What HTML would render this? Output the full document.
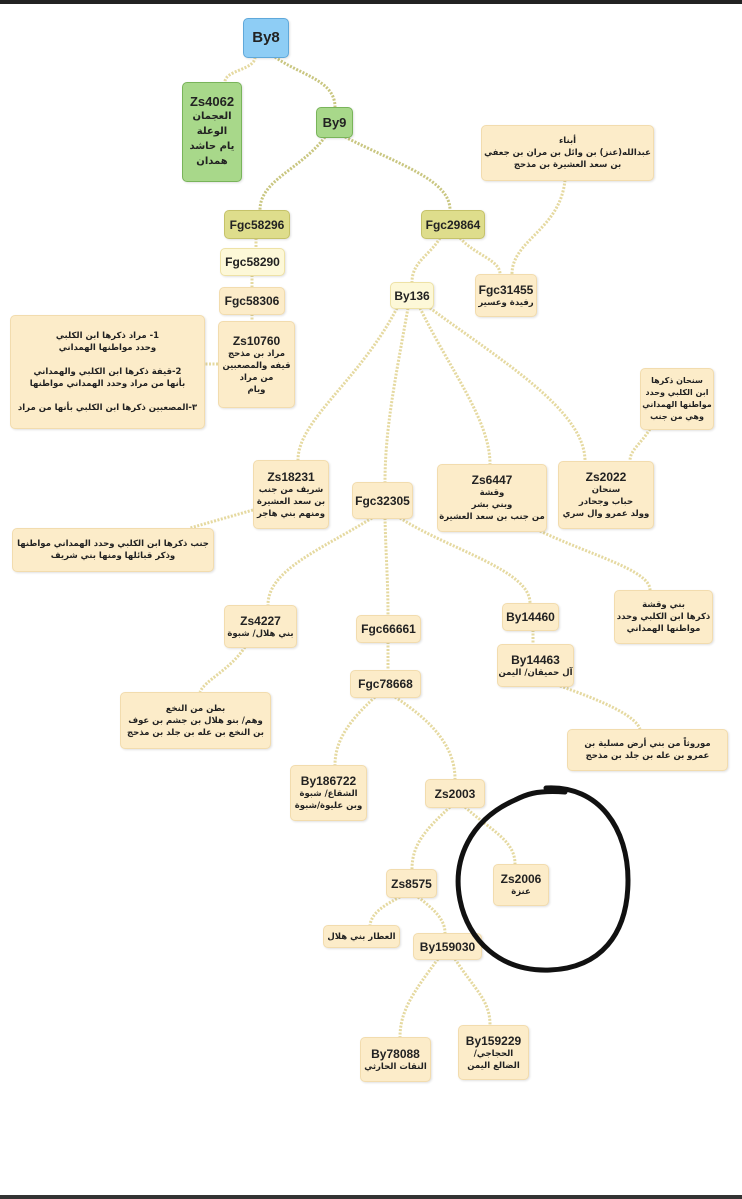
<!DOCTYPE html>
<html><head><meta charset="utf-8"><style>
html,body{margin:0;padding:0}
body{width:742px;height:1199px;position:relative;background:#fff;overflow:hidden;font-family:"Liberation Sans","DejaVu Sans",sans-serif}
.b{position:absolute;box-sizing:border-box;border-radius:5px;background:#fcecc9;border:1px solid #f2dcae;box-shadow:1px 1px 2px rgba(0,0,0,.12);display:flex;flex-direction:column;align-items:center;justify-content:center;text-align:center;color:#222}
.t{font-weight:bold;font-size:12px;line-height:14px;white-space:nowrap}
.a{font-family:"DejaVu Sans",sans-serif;font-weight:bold;font-size:8.5px;line-height:12px;direction:rtl;white-space:nowrap;letter-spacing:-0.2px}
.y{background:#fdf8d8;border-color:#eee2a6}
.o{background:#dedd8c;border-color:#c5c26a}
.g{background:#a8d88a;border-color:#79b45a}
</style></head><body>
<div style="position:absolute;left:0;top:0;width:742px;height:4px;background:#222"></div>
<div style="position:absolute;left:0;top:1195px;width:742px;height:4px;background:#333"></div>
<svg width="742" height="1199" style="position:absolute;left:0;top:0" fill="none" stroke="#e5d9a0" stroke-width="3" stroke-dasharray="2 1.5">
<path d="M255 57 C255 70,225 70,225 82"/>
<path d="M275 57 C300 75,335 80,335 107" stroke="#c9c680"/>
<path d="M325 137 C300 170,260 180,260 210" stroke="#c9c680"/>
<path d="M345 137 C400 165,450 180,450 210" stroke="#c9c680"/>
<path d="M256 238 L256 248"/><path d="M252 275 L252 287"/><path d="M252 314 L252 321"/>
<path d="M218 364 L204 364"/>
<path d="M440 238 C430 255,412 262,412 282"/>
<path d="M460 238 C475 255,500 260,500 274"/>
<path d="M565 180 C560 230,512 240,512 274"/>
<path d="M397 308 C360 380,298 420,298 460"/>
<path d="M408 308 C395 380,385 430,385 482"/>
<path d="M420 308 C450 370,490 420,490 464"/>
<path d="M430 308 C500 360,585 410,585 461"/>
<path d="M650 429 C640 445,630 450,630 461"/>
<path d="M253 510 L190 528"/>
<path d="M372 518 C320 550,268 570,268 605"/>
<path d="M385 518 C386 560,388 580,388 615"/>
<path d="M400 518 C450 550,530 570,530 603"/>
<path d="M540 531 C590 555,650 570,650 590"/>
<path d="M533 630 L533 644"/><path d="M388 642 L388 670"/>
<path d="M245 647 C230 670,205 680,200 692"/>
<path d="M560 686 C600 700,635 715,640 729"/>
<path d="M375 697 C350 720,335 740,335 765"/>
<path d="M395 697 C430 720,455 745,455 779"/>
<path d="M450 807 C425 830,412 845,412 869"/>
<path d="M465 807 C490 830,515 840,515 864"/>
<path d="M400 897 C385 905,372 912,370 925"/>
<path d="M418 897 C435 910,445 920,445 933"/>
<path d="M438 959 C415 990,400 1010,400 1037"/>
<path d="M455 959 C475 990,490 1000,490 1025"/>
</svg>
<div class="b" style="left:243px;top:18px;width:46px;height:40px;background:#8ecdf5;border-color:#5fa8da"><span class="t" style="font-size:15px">By8</span></div>
<div class="b g" style="left:182px;top:82px;width:60px;height:100px"><span class="t" style="font-size:13px">Zs4062</span><span class="a" style="font-size:10px;line-height:15px">العجمان<br>الوعلة<br>يام حاشد<br>همدان</span></div>
<div class="b g" style="left:316px;top:107px;width:37px;height:31px"><span class="t" style="font-size:13px">By9</span></div>
<div class="b o" style="left:224px;top:210px;width:66px;height:29px"><span class="t">Fgc58296</span></div>
<div class="b o" style="left:421px;top:210px;width:64px;height:29px"><span class="t">Fgc29864</span></div>
<div class="b y" style="left:220px;top:248px;width:65px;height:28px"><span class="t">Fgc58290</span></div>
<div class="b" style="left:219px;top:287px;width:66px;height:28px"><span class="t">Fgc58306</span></div>
<div class="b y" style="left:390px;top:282px;width:44px;height:27px"><span class="t">By136</span></div>
<div class="b" style="left:475px;top:274px;width:62px;height:43px"><span class="t">Fgc31455</span><span class="a">رفيدة وعسير</span></div>
<div class="b" style="left:481px;top:125px;width:173px;height:56px"><span class="a">أبناء<br>عبدالله(عنز) بن وائل بن مران بن جعفي<br>بن سعد العشيرة بن مذحج</span></div>
<div class="b" style="left:10px;top:315px;width:195px;height:114px"><span class="a">1- مراد ذكرها ابن الكلبي<br>وحدد مواطنها الهمداني<br><br>2-قيفة ذكرها ابن الكلبي والهمداني<br>بأنها من مراد وحدد الهمداني مواطنها<br><br>٣-المصعبين ذكرها ابن الكلبي بأنها من مراد</span></div>
<div class="b" style="left:218px;top:321px;width:77px;height:87px"><span class="t">Zs10760</span><span class="a">مراد بن مذحج<br>قيفه والمصعبين<br>من مراد<br>ويام</span></div>
<div class="b" style="left:640px;top:368px;width:74px;height:62px"><span class="a" style="font-size:8px">سنحان ذكرها<br>ابن الكلبي وحدد<br>مواطنها الهمداني<br>وهي من جنب</span></div>
<div class="b" style="left:253px;top:460px;width:76px;height:69px"><span class="t">Zs18231</span><span class="a">شريف من جنب<br>بن سعد العشيرة<br>ومنهم بني هاجر</span></div>
<div class="b" style="left:352px;top:482px;width:61px;height:37px"><span class="t">Fgc32305</span></div>
<div class="b" style="left:437px;top:464px;width:110px;height:68px"><span class="t">Zs6447</span><span class="a">وقشة<br>وبني بشر<br>من جنب بن سعد العشيرة</span></div>
<div class="b" style="left:558px;top:461px;width:96px;height:68px"><span class="t">Zs2022</span><span class="a">سنحان<br>حباب وجحادر<br>وولد عمرو وال سري</span></div>
<div class="b" style="left:12px;top:528px;width:202px;height:44px"><span class="a">جنب ذكرها ابن الكلبي وحدد الهمداني مواطنها<br>وذكر قبائلها ومنها بني شريف</span></div>
<div class="b" style="left:614px;top:590px;width:99px;height:54px"><span class="a">بني وقشة<br>ذكرها ابن الكلبي وحدد<br>مواطنها الهمداني</span></div>
<div class="b" style="left:224px;top:605px;width:73px;height:43px"><span class="t">Zs4227</span><span class="a">بني هلال/ شبوة</span></div>
<div class="b" style="left:356px;top:615px;width:65px;height:28px"><span class="t">Fgc66661</span></div>
<div class="b" style="left:502px;top:603px;width:57px;height:28px"><span class="t">By14460</span></div>
<div class="b" style="left:497px;top:644px;width:77px;height:43px"><span class="t">By14463</span><span class="a">آل حميقان/ اليمن</span></div>
<div class="b" style="left:350px;top:670px;width:71px;height:28px"><span class="t">Fgc78668</span></div>
<div class="b" style="left:120px;top:692px;width:151px;height:57px"><span class="a">بطن من النخع<br>وهم/ بنو هلال بن جشم بن عوف<br>بن النخع بن عله بن جلد بن مذحج</span></div>
<div class="b" style="left:567px;top:729px;width:161px;height:42px"><span class="a">موروثاً من بني أرض مسلية بن<br>عمرو بن عله بن جلد بن مذحج</span></div>
<div class="b" style="left:290px;top:765px;width:77px;height:56px"><span class="t">By186722</span><span class="a">الشقاع/ شبوة<br>وبن عليوة/شبوة</span></div>
<div class="b" style="left:425px;top:779px;width:60px;height:29px"><span class="t">Zs2003</span></div>
<div class="b" style="left:493px;top:864px;width:56px;height:42px"><span class="t">Zs2006</span><span class="a">عنزة</span></div>
<div class="b" style="left:386px;top:869px;width:51px;height:29px"><span class="t">Zs8575</span></div>
<div class="b" style="left:323px;top:925px;width:77px;height:23px"><span class="a">العطار بني هلال</span></div>
<div class="b" style="left:413px;top:933px;width:69px;height:27px"><span class="t">By159030</span></div>
<div class="b" style="left:360px;top:1037px;width:71px;height:45px"><span class="t">By78088</span><span class="a">النقات الحارثي</span></div>
<div class="b" style="left:458px;top:1025px;width:71px;height:55px"><span class="t">By159229</span><span class="a">الحجاجي/<br>الضالع اليمن</span></div>
<svg width="742" height="1199" style="position:absolute;left:0;top:0" fill="none">
<path d="M546 788 C600 785,628 830,628 880 C628 935,600 968,550 970 C500 972,468 940,460 900 C452 860,470 820,515 800 C525 795,535 790,565 792" stroke="#111" stroke-width="5" stroke-linecap="round"/>
</svg>
</body></html>
